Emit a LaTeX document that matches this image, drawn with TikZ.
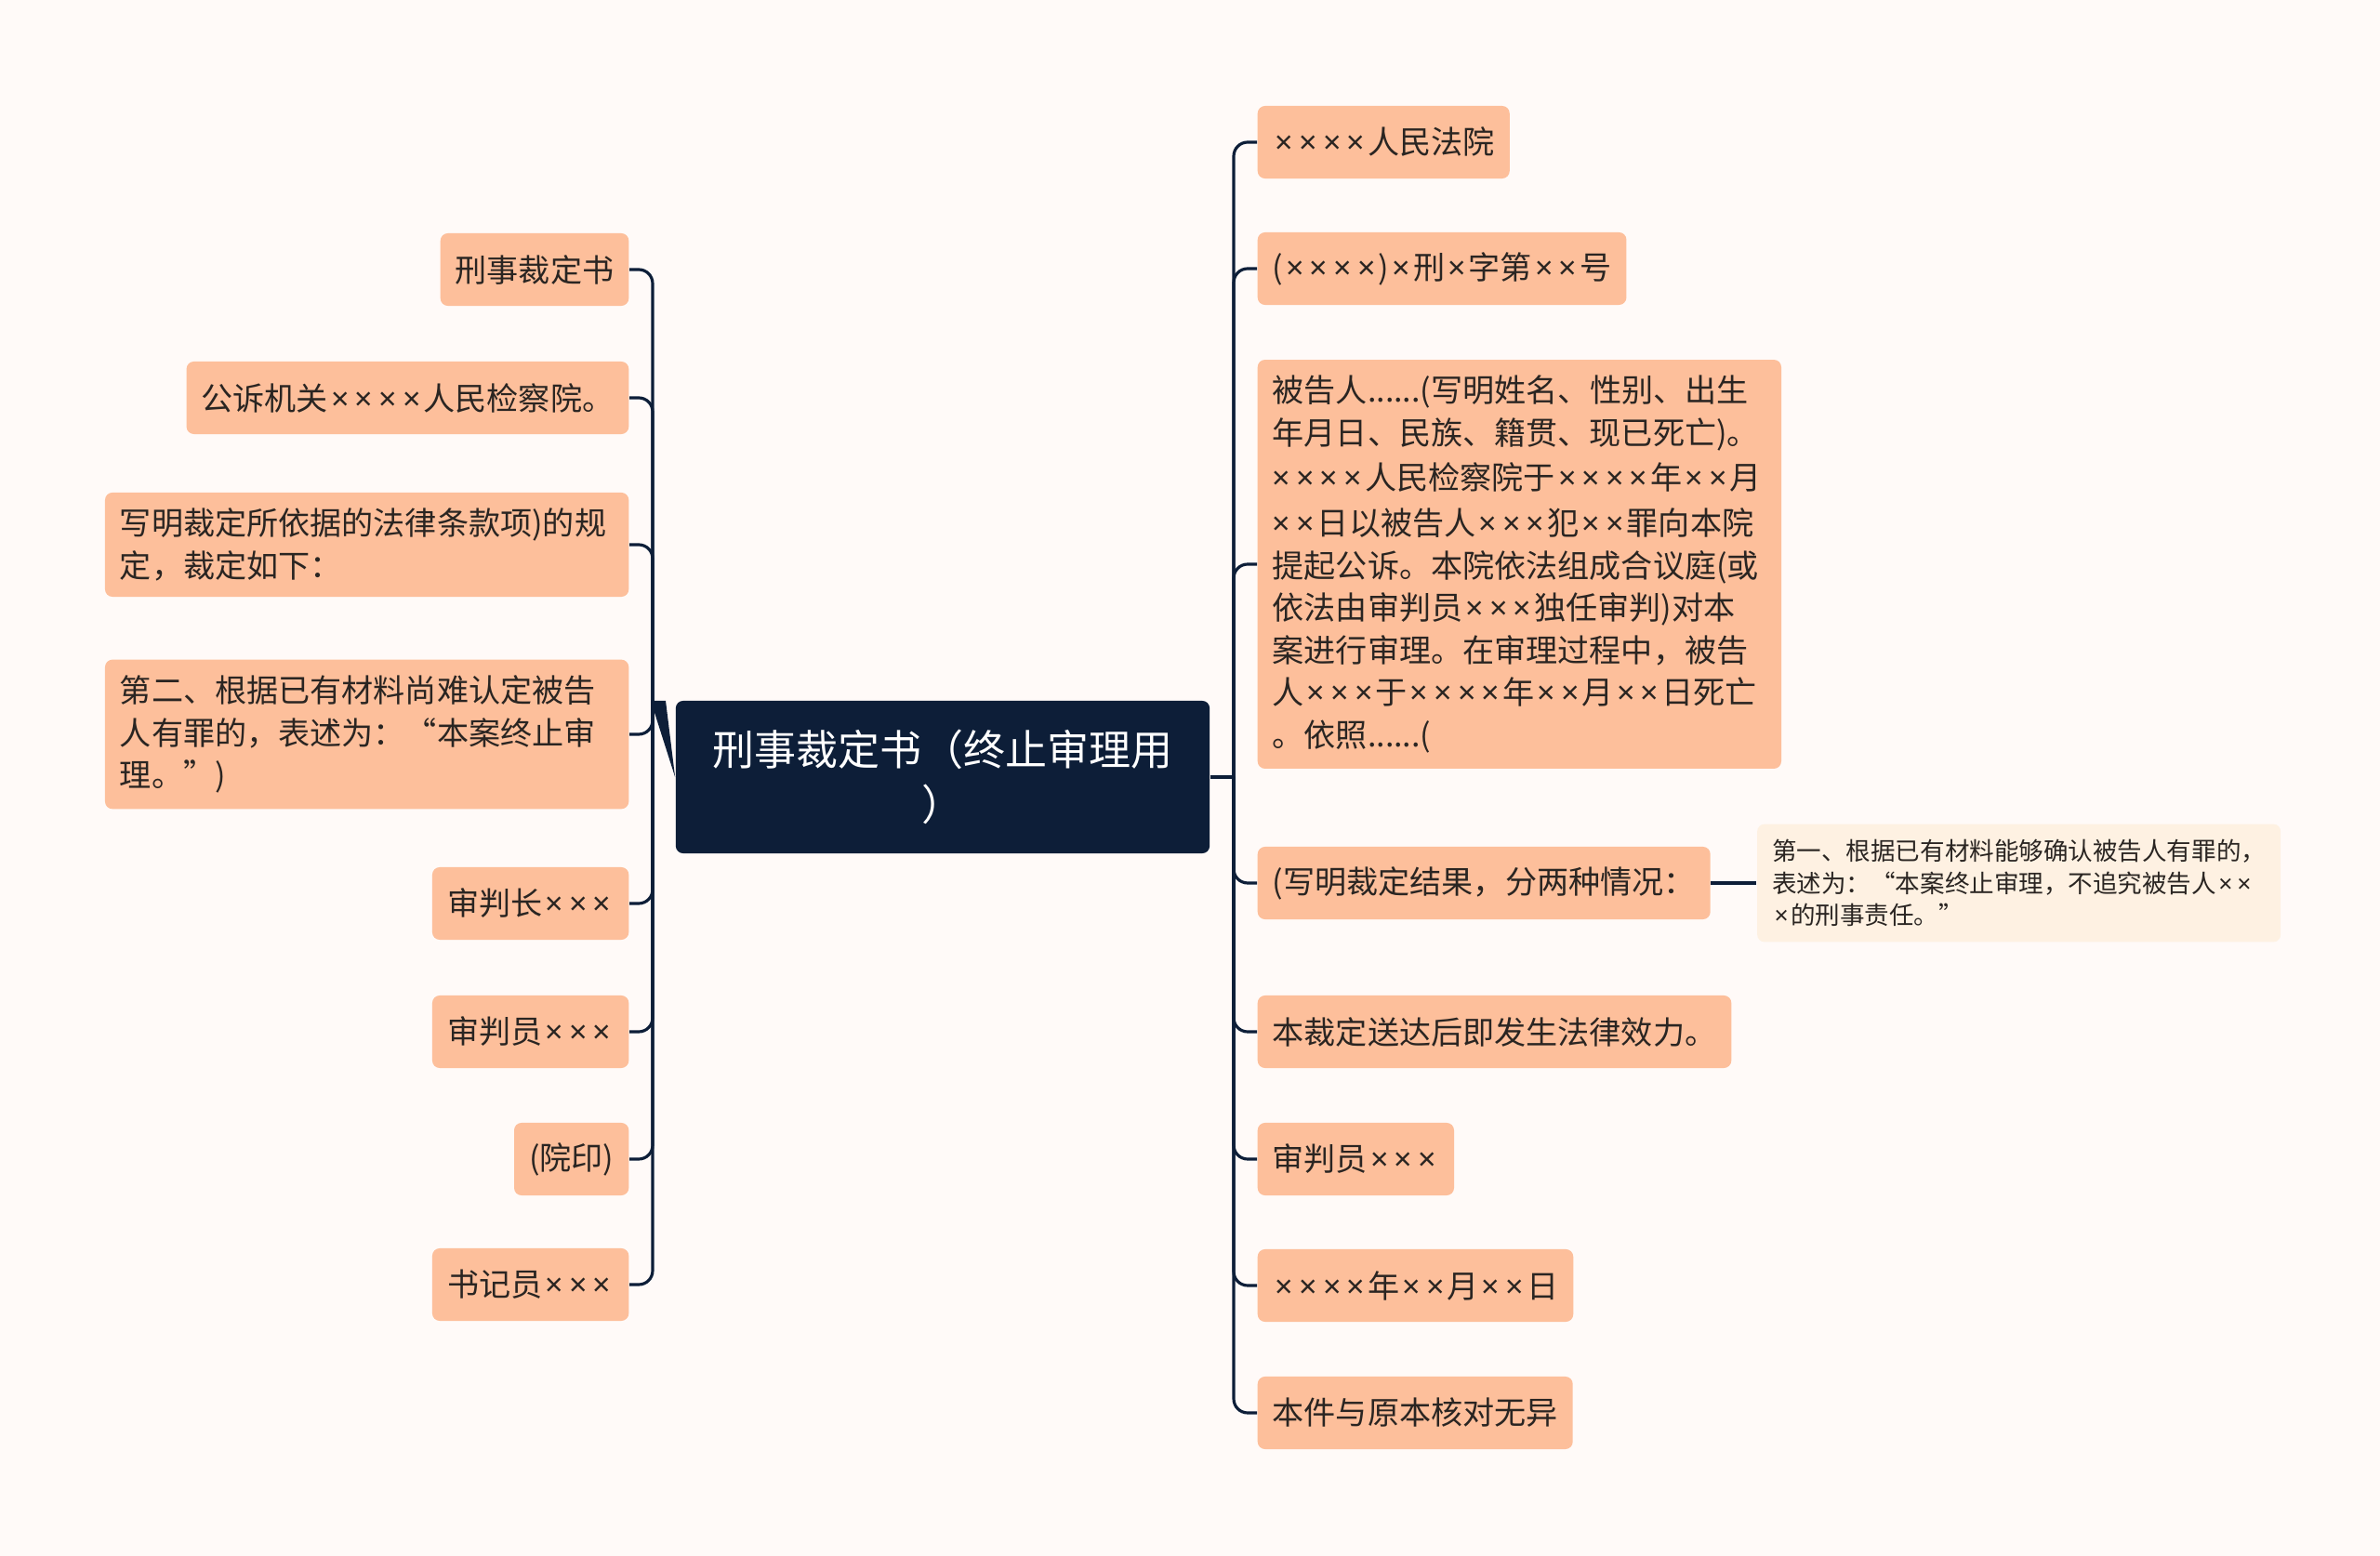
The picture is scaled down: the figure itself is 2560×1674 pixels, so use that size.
\documentclass[tikz,border=0pt]{standalone}
\usepackage{fontspec}
\setmainfont{Noto Sans CJK SC}
\newfontfamily\latinfont{Noto Sans}
\newcommand{\xs}{{\kern0.09em\latinfont ×\kern0.09em}}
\usetikzlibrary{positioning, calc}
\definecolor{bgpaper}{HTML}{FFFAF8}
\definecolor{peach}{HTML}{FDBF9B}
\definecolor{cream}{HTML}{FEF1E2}
\definecolor{navy}{HTML}{0D1E38}
\definecolor{ink}{HTML}{2A2522}

\begin{document}
\begin{tikzpicture}[x=0.01cm,y=-0.01cm,
    leaf/.style={fill=peach, rounded corners=0.08cm, text=ink, inner xsep=0.16cm,
      inner ysep=0.17cm, minimum height=0.78cm, align=left,
      font=\fontsize{9.7pt}{12.95pt}\selectfont},
    wide/.style={text width=5.31cm},
    root/.style={fill=navy, rounded corners=0.08cm, text=white, align=center,
      minimum width=5.74cm, minimum height=1.64cm,
      font=\fontsize{12.8pt}{16.8pt}\selectfont},
    note/.style={fill=cream, rounded corners=0.08cm, text=ink, inner xsep=0.16cm,
      inner ysep=0.17cm, align=left, font=\fontsize{7.55pt}{9.7pt}\selectfont},
    branch/.style={draw=navy, line width=0.9pt, rounded corners=0.15cm}]
  \fill[bgpaper] (0,0) rectangle (2560,1674);
  \useasboundingbox (0,0) rectangle (2560,1674);

  \node[root] (root) at (1014,836) {刑事裁定书（终止审理用\\）};

  % left side
  \node[leaf, anchor=east] (l1) at (677,290)  {刑事裁定书};
  \node[leaf, anchor=east] (l2) at (677,428)  {公诉机关\xs\xs\xs\xs 人民检察院。};
  \node[leaf, wide, anchor=east] (l3) at (677,586)  {写明裁定所依据的法律条款项)的规\\定，裁定如下：};
  \node[leaf, wide, anchor=east] (l4) at (677,790)  {第二、根据已有材料尚难认定被告\\人有罪的，表述为：“本案终止审\\理。”)};
  \node[leaf, anchor=east] (l5) at (677,972)  {审判长\xs\xs\xs};
  \node[leaf, anchor=east] (l6) at (677,1110) {审判员\xs\xs\xs};
  \node[leaf, anchor=east] (l7) at (677,1247) {(院印)};
  \node[leaf, anchor=east] (l8) at (677,1382) {书记员\xs\xs\xs};

  % right side
  \node[leaf, anchor=west] (r1) at (1352,153)  {\xs\xs\xs\xs 人民法院};
  \node[leaf, anchor=west] (r2) at (1352,289)  {(\xs\xs\xs\xs)\xs 刑\xs 字第\xs\xs 号};
  \node[leaf, wide, anchor=west] (r3) at (1352,607)  {被告人......(写明姓名、性别、出生\\年月日、民族、籍贯、现已死亡)。\\\xs\xs\xs\xs 人民检察院于\xs\xs\xs\xs 年\xs\xs 月\\\xs\xs 日以被告人\xs\xs\xs 犯\xs\xs 罪向本院\\提起公诉。本院依法组成合议庭(或\\依法由审判员\xs\xs\xs 独任审判)对本\\案进行审理。在审理过程中，被告\\人\xs\xs\xs 于\xs\xs\xs\xs 年\xs\xs 月\xs\xs 日死亡\\。依照......(};
  \node[leaf, anchor=west] (r4) at (1352,950)  {(写明裁定结果，分两种情况：};
  \node[leaf, anchor=west] (r5) at (1352,1110) {本裁定送达后即发生法律效力。};
  \node[leaf, anchor=west] (r6) at (1352,1247) {审判员\xs\xs\xs};
  \node[leaf, anchor=west] (r7) at (1352,1383) {\xs\xs\xs\xs 年\xs\xs 月\xs\xs 日};
  \node[leaf, anchor=west] (r8) at (1352,1520) {本件与原本核对无异};
  \node[note, right=0.49cm of r4] (n1) {第一、根据已有材料能够确认被告人有罪的，\\表述为：“本案终止审理，不追究被告人\xs\xs\\\xs 的刑事责任。”};

  % connectors
  \coordinate (lhub) at (702,754);
  \coordinate (rhub) at (1327,836);
  \fill[navy] ($(lhub)+(-2,0)$) -- ($(lhub)+(14,0)$) -- (root.west) -- cycle;
  \foreach \i in {1,...,8}
    \draw[branch] (lhub) |- (l\i.east);
  \draw[branch] (root.east) -- (rhub);
  \foreach \i in {1,...,8}
    \draw[branch] (rhub) |- (r\i.west);
  \draw[branch] (r4.east) -- (n1.west);
\end{tikzpicture}
\end{document}
